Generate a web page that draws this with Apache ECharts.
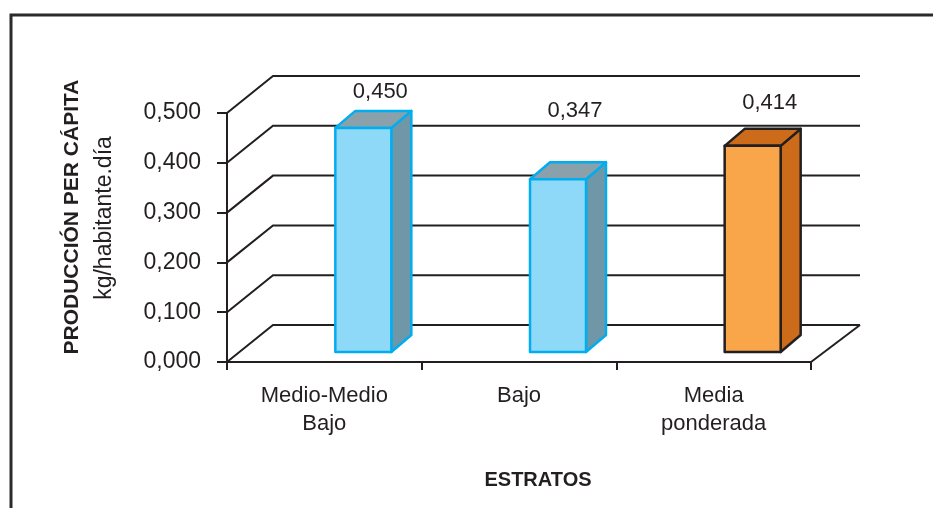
<!DOCTYPE html>
<html>
<head>
<meta charset="utf-8">
<script src="https://cdn.jsdelivr.net/npm/echarts@6/dist/echarts.min.js"></script>
<style>
  html, body { margin: 0; padding: 0; background: #fff; }
  #chart { width: 933px; height: 508px; }
</style>
</head>
<body>
<div id="chart"></div>
<script>
// data
const categories = ['Medio-Medio\nBajo', 'Bajo', 'Media\nponderada'];
const values = [0.450, 0.347, 0.414];
const yTicks = [0, 0.1, 0.2, 0.3, 0.4, 0.5];

// layout / styling for the fake 3D look
const ink = '#231f20';
const font = '"Liberation Sans", Arial, sans-serif';
const wallDx = 46, wallDxRight = 49, wallDy = -37;
const barLift = 10, barOffset = 11, barWidth = 56, barDx = 20, barDy = -17;
const labelShift = 56;
const labelLift = [46, 78, 53];
const barStyles = [
  { front: '#8fd9f8', side: '#7097a8', top: '#8aa1ac', edge: '#00aeef' },
  { front: '#8fd9f8', side: '#7097a8', top: '#8aa1ac', edge: '#00aeef' },
  { front: '#f9a64a', side: '#cc6c1a', top: '#cc6c1a', edge: ink }
];

const fmt = (v) => v.toFixed(3).replace('.', ',');

const chart = echarts.init(document.getElementById('chart'), null, { renderer: 'canvas' });

const option = {
  animation: false,
  textStyle: { fontFamily: font, color: ink },
  grid: { left: 227, right: 122, top: 113, bottom: 146, containLabel: false },
  xAxis: {
    type: 'category',
    data: categories,
    name: 'ESTRATOS',
    nameLocation: 'middle',
    nameGap: 108,
    nameTextStyle: { fontSize: 20, fontWeight: 'bold', color: ink, fontFamily: font, padding: [0, 0, 0, 38] },
    axisLine: { lineStyle: { color: ink, width: 2 } },
    axisTick: { show: true, length: 8, lineStyle: { color: ink, width: 2 } },
    axisLabel: { interval: 0, fontSize: 22, lineHeight: 28, color: ink, margin: 20, fontFamily: font },
    splitLine: { show: false }
  },
  yAxis: {
    type: 'value',
    min: 0,
    max: 0.5,
    interval: 0.1,
    axisLine: { show: true, lineStyle: { color: ink, width: 2 } },
    axisTick: { show: true, length: 10, lineStyle: { color: ink, width: 2 } },
    axisLabel: { fontSize: 23, color: ink, margin: 26, fontFamily: font, formatter: fmt },
    splitLine: { show: false }
  },
  graphic: [
    {
      type: 'polyline',
      shape: { points: [[11, 508], [11, 15], [933, 15]] },
      style: { stroke: '#2b2b2b', lineWidth: 3, fill: null }
    },
    {
      type: 'text',
      x: 72, y: 217, rotation: Math.PI / 2,
      style: { text: 'PRODUCCIÓN PER CÁPITA', font: 'bold 21px ' + font, fill: ink, align: 'center', verticalAlign: 'middle' }
    },
    {
      type: 'text',
      x: 105, y: 218, rotation: Math.PI / 2,
      style: { text: 'kg/habitante.día', font: '23px ' + font, fill: ink, align: 'center', verticalAlign: 'middle' }
    }
  ],
  series: [
    {
      // back wall gridlines + floor
      type: 'custom',
      z: 1,
      silent: true,
      data: yTicks.map((v) => [0, v]),
      renderItem(params, api) {
        const cs = params.coordSys;
        const x0 = cs.x, x1 = cs.x + cs.width;
        const v = api.value(1);
        const y = api.coord([0, v])[1];
        const lineStyle = { stroke: ink, lineWidth: 2, fill: null };
        const children = [{
          type: 'polyline',
          shape: { points: [[x0, y], [x0 + wallDx, y + wallDy], [x1 + wallDxRight, y + wallDy]] },
          style: lineStyle
        }];
        if (v === 0) {
          children.push({
            type: 'line',
            shape: { x1: x1, y1: y, x2: x1 + wallDxRight, y2: y + wallDy },
            style: lineStyle
          });
        }
        return { type: 'group', children };
      }
    },
    {
      // 3D-looking bars
      type: 'custom',
      z: 3,
      data: values.map((v, i) => [i, v]),
      renderItem(params, api) {
        const i = params.dataIndex;
        const v = api.value(1);
        const c = api.coord([api.value(0), v]);
        const base = api.coord([api.value(0), 0]);
        const st = barStyles[i];
        const fl = c[0] + barOffset;
        const fr = fl + barWidth;
        const top = c[1] - barLift;
        const bottom = base[1] - barLift;
        const edge = { stroke: st.edge, lineWidth: 2.5, lineJoin: 'round' };
        return {
          type: 'group',
          children: [
            {
              type: 'polygon',
              shape: { points: [[fr, top], [fr + barDx, top + barDy], [fr + barDx, bottom + barDy], [fr, bottom]] },
              style: Object.assign({ fill: st.side }, edge)
            },
            {
              type: 'polygon',
              shape: { points: [[fl, top], [fl + barDx, top + barDy], [fr + barDx, top + barDy], [fr, top]] },
              style: Object.assign({ fill: st.top }, edge)
            },
            {
              type: 'rect',
              shape: { x: fl, y: top, width: barWidth, height: bottom - top },
              style: Object.assign({ fill: st.front }, edge)
            },
            {
              type: 'text',
              x: c[0] + labelShift,
              y: c[1] - labelLift[i],
              style: { text: fmt(v), font: '22px ' + font, fill: ink, align: 'center', verticalAlign: 'middle' }
            }
          ]
        };
      }
    }
  ]
};

chart.setOption(option);
</script>
</body>
</html>
